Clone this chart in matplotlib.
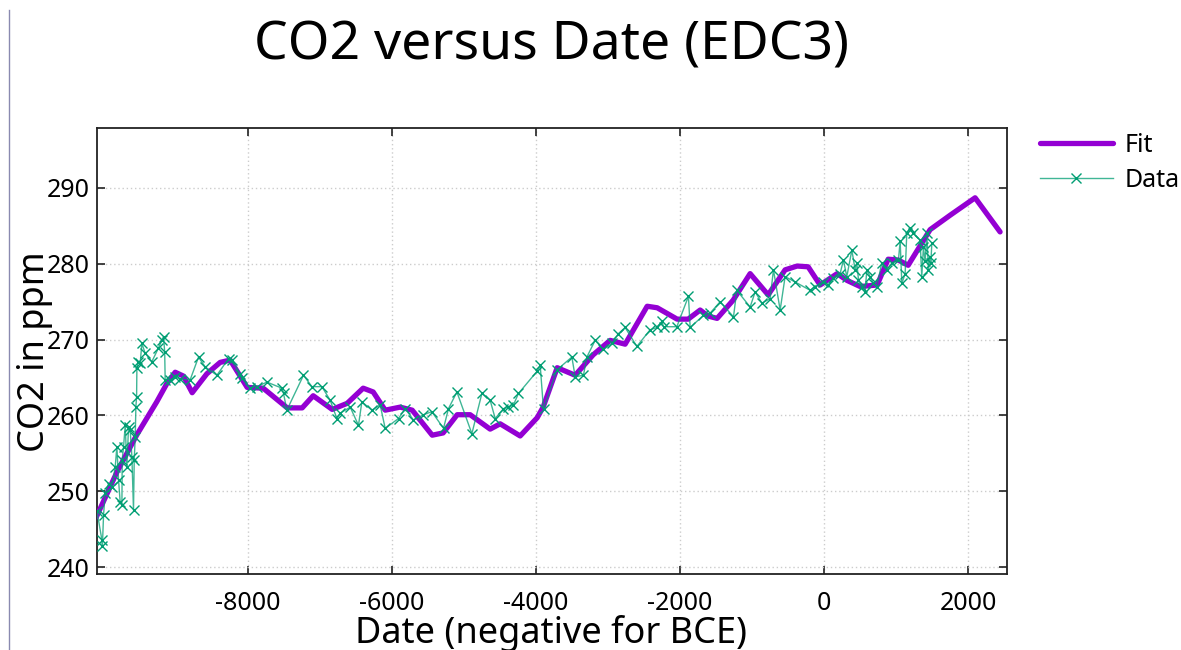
import matplotlib
matplotlib.use("Agg")
import matplotlib.pyplot as plt
from matplotlib.lines import Line2D

plt.rcParams['font.family'] = ['Noto Sans', 'DejaVu Sans']

# smoothed fit through the ice-core record
fit_date = [-10110, -9820, -9550, -9270, -9130, -9014, -8900, -8778, -8574, -8389,
            -8250, -8014, -7792, -7458, -7250, -7097, -6833, -6625, -6403, -6264,
            -6097, -5889, -5722, -5444, -5292, -5097, -4917, -4639, -4500, -4222,
            -3986, -3903, -3708, -3458, -3208, -2972, -2764, -2458, -2319, -2042,
            -1889, -1722, -1611, -1486, -1264, -1028, -778, -542, -375, -222,
            -56, 181, 319, 500, 736, 889, 1028, 1167, 1472, 1750, 2097, 2444]
fit_co2 = [246.6, 252.6, 257.4, 261.8, 264.2, 265.7, 265.2, 263.0, 265.5, 267.0,
           267.3, 263.7, 263.6, 261.0, 261.0, 262.6, 260.8, 261.6, 263.6, 263.1,
           260.7, 261.1, 260.7, 257.4, 257.7, 260.1, 260.1, 258.2, 258.9, 257.3,
           259.7, 261.1, 266.3, 265.3, 268.0, 269.9, 269.4, 274.4, 274.2, 272.7,
           272.7, 273.9, 273.1, 272.8, 275.2, 278.7, 275.9, 279.2, 279.7, 279.6,
           277.2, 278.7, 277.8, 277.0, 277.2, 280.6, 280.5, 279.8, 284.5, 286.4,
           288.7, 284.2]

# EDC3 measurements
data_date = [-10101, -10032, -10025, -10009, -9986, -9940, -9893, -9847, -9824, -9801,
             -9778, -9754, -9750, -9731, -9708, -9685, -9662, -9639, -9615, -9593,
             -9583, -9569, -9560, -9550, -9546, -9532, -9500, -9477, -9431, -9338,
             -9246, -9199, -9176, -9160, -9153, -9083, -9014, -8944, -8806, -8690,
             -8597, -8435, -8273, -8226, -8111, -8088, -7972, -7879, -7740, -7532,
             -7509, -7463, -7232, -7115, -6976, -6861, -6768, -6722, -6583, -6468,
             -6421, -6282, -6167, -6097, -5912, -5819, -5704, -5565, -5449, -5287,
             -5218, -5101, -4893, -4754, -4639, -4569, -4454, -4385, -4315, -4246,
             -3990, -3944, -3898, -3713, -3504, -3458, -3343, -3296, -3181, -3065,
             -2949, -2857, -2764, -2601, -2417, -2324, -2254, -2231, -2046, -1885,
             -1861, -1676, -1583, -1444, -1259, -1213, -1028, -958, -865, -750,
             -704, -611, -542, -403, -194, -125, -9, 60, 129, 222,
             268, 315, 385, 431, 454, 477, 524, 569, 593, 639,
             685, 731, 801, 871, 940, 1032, 1056, 1079, 1125, 1148,
             1194, 1240, 1333, 1356, 1379, 1403, 1426, 1449, 1472, 1482, 1496]
data_co2 = [247.4, 243.6, 242.8, 246.9, 249.8, 251.0, 250.6, 253.2, 255.9, 251.5,
            248.6, 248.2, 254.1, 255.9, 258.7, 253.2, 258.5, 258.1, 254.5, 247.5,
            254.1, 257.2, 261.1, 262.5, 266.2, 267.1, 266.9, 269.5, 268.2, 267.1,
            268.9, 269.9, 270.4, 268.4, 264.7, 264.7, 265.1, 264.8, 264.7, 267.7,
            266.4, 265.3, 267.5, 267.3, 265.5, 264.9, 263.6, 263.8, 264.4, 263.6,
            262.9, 260.7, 265.3, 263.8, 263.8, 262.0, 259.6, 260.3, 261.1, 258.7,
            261.8, 260.7, 261.4, 258.3, 259.6, 260.9, 259.4, 260.1, 260.5, 258.3,
            260.9, 263.1, 257.6, 262.9, 262.0, 259.6, 260.9, 261.1, 261.4, 262.9,
            265.8, 266.6, 260.8, 266.0, 267.7, 265.1, 265.3, 267.7, 269.9, 268.7,
            269.5, 270.8, 271.6, 269.1, 271.3, 271.6, 272.4, 271.7, 271.7, 275.7,
            271.6, 273.2, 273.5, 275.0, 273.0, 276.5, 274.3, 276.3, 274.8, 275.4,
            279.2, 273.9, 278.3, 277.6, 276.5, 277.0, 277.6, 277.2, 278.1, 278.7,
            280.5, 278.3, 281.8, 279.2, 280.1, 277.9, 277.0, 276.3, 279.2, 278.3,
            277.4, 277.0, 280.1, 279.2, 280.1, 280.5, 283.0, 277.4, 278.7, 284.0,
            284.7, 284.0, 283.1, 278.3, 282.2, 280.3, 284.0, 279.2, 280.9, 280.1, 282.7]

x_ticks = [-8000, -6000, -4000, -2000, 0, 2000]
y_ticks = [240, 250, 260, 270, 280, 290]

fig = plt.figure(figsize=(11.81, 6.5), dpi=100)
ax = fig.add_axes([97/1181, 1-574/650, 910/1181, 446/650])

ax.plot(fit_date, fit_co2, color='#9400D3', lw=3.8, label='Fit',
        solid_capstyle='round', solid_joinstyle='round', zorder=3)
ax.plot(data_date, data_co2, color=(0.0, 0.62, 0.45, 0.75), lw=1.0,
        marker='x', ms=7, mew=1.0, mec='#009E73', label='Data', zorder=4)

ax.set_xlim(-10100, 2540)
ax.set_ylim(239.1, 297.9)
ax.set_xticks(x_ticks)
ax.set_yticks(y_ticks)
ax.set_xticklabels([str(v) for v in x_ticks])
ax.grid(True, color='#cccccc', ls=(0, (1, 2)), lw=1.0)
ax.tick_params(direction='in', length=6, width=1.2, labelsize=18,
               top=True, right=True, colors='#222222', labelcolor='black', pad=5)
ax.tick_params(axis='x', pad=12)
for s in ax.spines.values():
    s.set_linewidth(1.3)
    s.set_color('#222222')

fig.text(551/1181, 1-46/650, 'CO2 versus Date (EDC3)', fontsize=38.5,
         ha='center', va='center')
fig.text(551/1181, 1-615/650, 'Date (negative for BCE)', fontsize=26,
         ha='center', va='top')
fig.text(35/1181, 1-352/650, 'CO2 in ppm', fontsize=26, rotation=90,
         ha='center', va='center')

leg = ax.legend(loc='upper left', bbox_to_anchor=(1040/1181, 1-133/650),
                bbox_transform=fig.transFigure, frameon=False, fontsize=18,
                handlelength=2.9, handletextpad=0.5, labelspacing=0.4,
                borderpad=0, borderaxespad=0)

# thin frame line along the left edge
fig.add_artist(Line2D([9.5/1181, 9.5/1181], [0, 1-10/650], color='#8a8ab0',
                      lw=1.0, transform=fig.transFigure))

fig.savefig('out.png', dpi=100)
